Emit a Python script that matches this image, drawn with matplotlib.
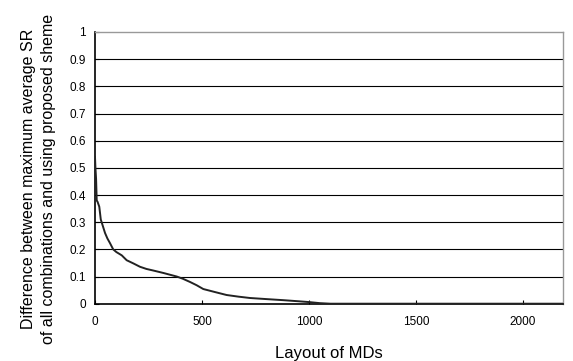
import matplotlib
matplotlib.use("Agg")
import matplotlib.pyplot as plt

plt.rcParams['font.family'] = ['Liberation Sans', 'DejaVu Sans']

layout_idx = [0, 2, 5, 8, 12, 20, 27, 35, 47, 58, 70, 85, 100, 125, 148, 180, 210, 240, 273,
              320, 382, 410, 444, 475, 506, 560, 615, 670, 724, 800, 880, 950, 1000, 1051, 1100, 2187]
sr_diff = [0.54, 0.50, 0.46, 0.38, 0.375, 0.357, 0.31, 0.29, 0.26, 0.24, 0.223, 0.20, 0.19, 0.178, 0.16, 0.148,
           0.136, 0.128, 0.122, 0.113, 0.100, 0.092, 0.080, 0.068, 0.054, 0.043, 0.032, 0.026, 0.021, 0.017,
           0.013, 0.009, 0.006, 0.002, 0.0, 0.0]

x_ticks = [0, 500, 1000, 1500, 2000]
y_ticks = [0, 0.1, 0.2, 0.3, 0.4, 0.5, 0.6, 0.7, 0.8, 0.9, 1]
y_tick_labels = ["0", "0.1", "0.2", "0.3", "0.4", "0.5", "0.6", "0.7", "0.8", "0.9", "1"]

fig = plt.figure(figsize=(5.73, 3.61), dpi=100)
ax = fig.add_axes([95/573, 1 - 303.7/361, (563-95)/573, (303.7-32)/361])

for yv in y_ticks[1:-1]:
    ax.axhline(yv, color='black', lw=0.8, zorder=1)

ax.plot(layout_idx, sr_diff, color='#222222', lw=1.4, zorder=3)

ax.set_xlim(0, 2187)
ax.set_ylim(0, 1)
ax.set_xticks(x_ticks)
ax.set_yticks(y_ticks)
ax.set_yticklabels(y_tick_labels)
ax.tick_params(axis='both', labelsize=8.5, colors='black', direction='in', length=3, width=0.8)
ax.tick_params(axis='x', pad=9)
ax.tick_params(axis='y', pad=6.5)

ax.spines['left'].set_color('black')
ax.spines['bottom'].set_color('black')
ax.spines['left'].set_linewidth(1.2)
ax.spines['bottom'].set_linewidth(1.2)
ax.spines['top'].set_color('#999999')
ax.spines['right'].set_color('#999999')
ax.spines['top'].set_linewidth(1.0)
ax.spines['right'].set_linewidth(1.0)

ax.set_xlabel("Layout of MDs", fontsize=12, labelpad=12.5)
ax.set_ylabel("Difference between maximum average SR\nof all combinations and using proposed sheme",
              fontsize=11.5, linespacing=1.38)
ax.yaxis.set_label_coords((56 - 95) / 468, (303.7 - 179) / 271.7)

fig.savefig("out.png", dpi=100)
